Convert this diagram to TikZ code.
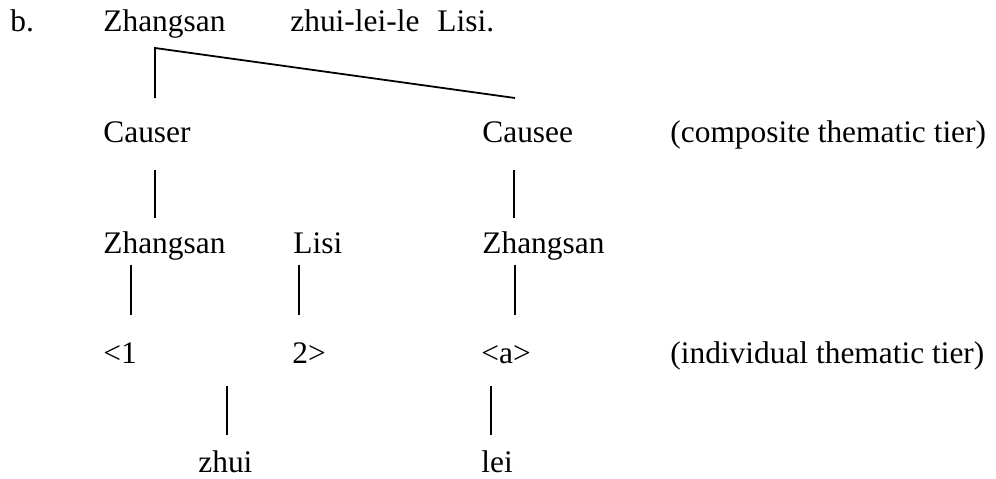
\documentclass[tikz,border=0pt]{standalone}
\usepackage{fontspec}
\setmainfont{Liberation Serif}
\usetikzlibrary{positioning}

\begin{document}
\begin{tikzpicture}[
  x=0.5pt, y=-0.5pt,
  font=\fontsize{15.7}{19}\selectfont,
  parola/.style={anchor=base west, inner sep=0pt},
  asso/.style={draw=black, line width=0.9pt}
]
\useasboundingbox (0,0) rectangle (996,478);

% ---- riga della frase ------------------------------------------------
\node[parola] (lettera) at (10,31)  {b.};
\node[parola] (zs)      at (103,31) {Zhangsan};
\node[parola] (verbo)   at (290,31) {zhui-lei-le};
\node[parola] (ls)      at (437,31) {Lisi.};

% ---- livello tematico composito --------------------------------------
\node[parola] (causer)  at (103,142) {Causer};
\node[parola] (causee)  at (482,142) {Causee};
\node[parola] (comp)    at (670,142) {(composite thematic tier)};

% ---- argomenti -------------------------------------------------------
\node[parola] (zsA)     at (103,253) {Zhangsan};
\node[parola] (lsA)     at (293,253) {Lisi};
\node[parola] (zsB)     at (482,253) {Zhangsan};

% ---- livello tematico individuale ------------------------------------
\node[parola] (uno)     at (103,363) {<1};
\node[parola] (due)     at (292,363) {2>};
\node[parola] (aa)      at (481,363) {<a>};
\node[parola] (indiv)   at (670,363) {(individual thematic tier)};

% ---- predicati -------------------------------------------------------
\node[parola] (zhui)    at (198,472) {zhui};
\node[parola] (lei)     at (481,472) {lei};

% ---- estremi delle associazioni ---------------------------------------
\coordinate (zsGiu)    at (155,48);
\coordinate (causerSu) at (155,98);
\coordinate (causeeSu) at (515,98);
\coordinate (causerGiu) at (155,170);
\coordinate (zsASu)    at (155,218);
\coordinate (causeeGiu) at (514,170);
\coordinate (zsBSu)    at (514,218);
\coordinate (zsAGiu)   at (131,265);
\coordinate (unoSu)    at (131,315);
\coordinate (lsAGiu)   at (299,265);
\coordinate (dueSu)    at (299,315);
\coordinate (zsBGiu)   at (515,265);
\coordinate (aaSu)     at (515,315);
\coordinate (zhuiSu)   at (227,386);
\coordinate (zhuiGiu)  at (227,435);
\coordinate (leiSu)    at (491,386);
\coordinate (leiGiu)   at (491,435);

% ---- associazioni ----------------------------------------------------
\draw[asso] (causerSu) -- (zsGiu) -- (causeeSu);
\draw[asso] (causerGiu) -- (zsASu);
\draw[asso] (causeeGiu) -- (zsBSu);
\draw[asso] (zsAGiu) -- (unoSu);
\draw[asso] (lsAGiu) -- (dueSu);
\draw[asso] (zsBGiu) -- (aaSu);
\draw[asso] (zhuiSu) -- (zhuiGiu);
\draw[asso] (leiSu) -- (leiGiu);

\end{tikzpicture}
\end{document}
